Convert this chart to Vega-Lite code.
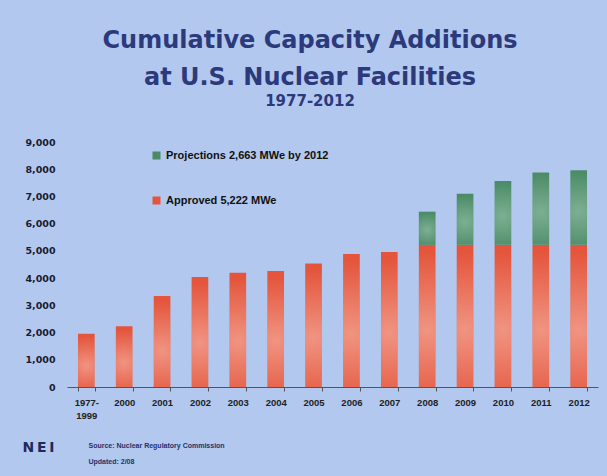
{
  "$schema": "https://vega.github.io/schema/vega-lite/v6.json",
  "width": 531,
  "height": 245,
  "autosize": "none",
  "padding": {"left": 67, "top": 142, "right": 9, "bottom": 89},
  "background": "#b2c8ee",
  "config": {"view": {"stroke": null}},
  "title": {
    "text": ["Cumulative Capacity Additions", "at U.S. Nuclear Facilities"],
    "subtitle": "1977-2012",
    "anchor": "middle",
    "frame": "bounds",
    "offset": 28,
    "font": "DejaVu Sans",
    "fontSize": 24,
    "fontWeight": "bold",
    "color": "#2c3a7c",
    "lineHeight": 37,
    "subtitleFont": "DejaVu Sans",
    "subtitleFontSize": 15,
    "subtitleFontWeight": "bold",
    "subtitleColor": "#2c3a7c",
    "subtitlePadding": 4
  },
  "data": {
    "values": [
      {"year": "1977-1999", "approved": 1960, "total": 1960},
      {"year": "2000", "approved": 2230, "total": 2230},
      {"year": "2001", "approved": 3340, "total": 3340},
      {"year": "2002", "approved": 4040, "total": 4040},
      {"year": "2003", "approved": 4200, "total": 4200},
      {"year": "2004", "approved": 4260, "total": 4260},
      {"year": "2005", "approved": 4540, "total": 4540},
      {"year": "2006", "approved": 4890, "total": 4890},
      {"year": "2007", "approved": 4960, "total": 4960},
      {"year": "2008", "approved": 5222, "total": 6440},
      {"year": "2009", "approved": 5222, "total": 7100},
      {"year": "2010", "approved": 5222, "total": 7570},
      {"year": "2011", "approved": 5222, "total": 7880},
      {"year": "2012", "approved": 5222, "total": 7960}
    ]
  },
  "encoding": {
    "x": {
      "field": "year",
      "type": "nominal",
      "sort": null,
      "scale": {"paddingInner": 0.56, "paddingOuter": 0.29},
      "axis": {
        "title": ["Source: Nuclear Regulatory Commission", "Updated: 2/08"],
        "titleX": 21,
        "titleY": 60,
        "titleAlign": "left",
        "titleAnchor": "start",
        "titleBaseline": "alphabetic",
        "titleFont": "Liberation Sans",
        "titleFontSize": 7,
        "titleFontWeight": "bold",
        "titleColor": "#25306a",
        "titleLineHeight": 16,
        "labelAngle": 0,
        "labelFont": "Liberation Sans",
        "labelFontWeight": "bold",
        "labelFontSize": 9.5,
        "labelColor": "#222222",
        "labelPadding": 6,
        "labelLineHeight": 13.5,
        "labelExpr": "datum.value == '1977-1999' ? ['1977-', '1999'] : datum.label",
        "domainColor": "#555555",
        "tickColor": "#555555",
        "tickSize": 4,
        "tickBand": "extent"
      }
    }
  },
  "layer": [
    {
      "mark": {"type": "bar"},
      "encoding": {
        "y": {
          "field": "approved",
          "type": "quantitative",
          "scale": {"domain": [0, 9000], "nice": false},
          "axis": {
            "values": [0, 1000, 2000, 3000, 4000, 5000, 6000, 7000, 8000, 9000],
            "format": ",d",
            "domain": false,
            "ticks": false,
            "grid": false,
            "labelPadding": 12,
            "labelFont": "DejaVu Sans",
            "labelFontWeight": "bold",
            "labelFontSize": 9.5,
            "labelColor": "#1a1a2e",
            "title": "N\u2009E\u2009I",
            "titleAngle": 0,
            "titleX": -45,
            "titleY": 305,
            "titleAlign": "left",
            "titleBaseline": "middle",
            "titleFont": "DejaVu Sans",
            "titleFontSize": 14,
            "titleFontWeight": "bold",
            "titleColor": "#1f2a5c"
          }
        },
        "color": {
          "datum": "Approved 5,222 MWe",
          "type": "nominal",
          "scale": {
            "domain": ["Projections 2,663 MWe by 2012", "Approved 5,222 MWe"],
            "range": ["#4a8a66", "#e4553c"]
          },
          "legend": {
            "orient": "none",
            "legendX": 84,
            "legendY": 8,
            "title": null,
            "direction": "vertical",
            "symbolType": "square",
            "symbolSize": 64,
            "symbolStrokeWidth": 0,
            "labelFont": "Liberation Sans",
            "labelFontSize": 11,
            "labelFontWeight": "bold",
            "labelColor": "#111111",
            "labelLimit": 400,
            "rowPadding": 33,
            "labelOffset": 4,
            "padding": 0
          }
        }
      }
    },
    {
      "mark": {
        "type": "bar",
        "fill": {
          "gradient": "radial",
          "x1": 0.5, "y1": 0.6, "r1": 0,
          "x2": 0.5, "y2": 0.6, "r2": 0.55,
          "stops": [
            {"offset": 0, "color": "rgba(255,225,215,0.45)"},
            {"offset": 1, "color": "rgba(255,225,215,0)"}
          ]
        }
      },
      "encoding": {
        "y": {
          "field": "approved",
          "type": "quantitative",
          "scale": {"domain": [0, 9000], "nice": false},
          "axis": {
            "values": [0, 1000, 2000, 3000, 4000, 5000, 6000, 7000, 8000, 9000],
            "format": ",d",
            "domain": false,
            "ticks": false,
            "grid": false,
            "labelPadding": 12,
            "labelFont": "DejaVu Sans",
            "labelFontWeight": "bold",
            "labelFontSize": 9.5,
            "labelColor": "#1a1a2e",
            "title": "N\u2009E\u2009I",
            "titleAngle": 0,
            "titleX": -45,
            "titleY": 305,
            "titleAlign": "left",
            "titleBaseline": "middle",
            "titleFont": "DejaVu Sans",
            "titleFontSize": 14,
            "titleFontWeight": "bold",
            "titleColor": "#1f2a5c"
          }
        }
      }
    },
    {
      "transform": [{"filter": "datum.total > datum.approved"}],
      "mark": {"type": "bar"},
      "encoding": {
        "y": {
          "field": "total",
          "type": "quantitative",
          "scale": {"domain": [0, 9000], "nice": false},
          "axis": {
            "values": [0, 1000, 2000, 3000, 4000, 5000, 6000, 7000, 8000, 9000],
            "format": ",d",
            "domain": false,
            "ticks": false,
            "grid": false,
            "labelPadding": 12,
            "labelFont": "DejaVu Sans",
            "labelFontWeight": "bold",
            "labelFontSize": 9.5,
            "labelColor": "#1a1a2e",
            "title": "N\u2009E\u2009I",
            "titleAngle": 0,
            "titleX": -45,
            "titleY": 305,
            "titleAlign": "left",
            "titleBaseline": "middle",
            "titleFont": "DejaVu Sans",
            "titleFontSize": 14,
            "titleFontWeight": "bold",
            "titleColor": "#1f2a5c"
          }
        },
        "y2": {"field": "approved"},
        "color": {
          "datum": "Projections 2,663 MWe by 2012",
          "type": "nominal",
          "scale": {
            "domain": ["Projections 2,663 MWe by 2012", "Approved 5,222 MWe"],
            "range": ["#4a8a66", "#e4553c"]
          },
          "legend": {
            "orient": "none",
            "legendX": 84,
            "legendY": 8,
            "title": null,
            "direction": "vertical",
            "symbolType": "square",
            "symbolSize": 64,
            "symbolStrokeWidth": 0,
            "labelFont": "Liberation Sans",
            "labelFontSize": 11,
            "labelFontWeight": "bold",
            "labelColor": "#111111",
            "labelLimit": 400,
            "rowPadding": 33,
            "labelOffset": 4,
            "padding": 0
          }
        }
      }
    },
    {
      "transform": [{"filter": "datum.total > datum.approved"}],
      "mark": {
        "type": "bar",
        "fill": {
          "gradient": "radial",
          "x1": 0.5, "y1": 0.55, "r1": 0,
          "x2": 0.5, "y2": 0.55, "r2": 0.55,
          "stops": [
            {"offset": 0, "color": "rgba(220,245,230,0.35)"},
            {"offset": 1, "color": "rgba(220,245,230,0)"}
          ]
        }
      },
      "encoding": {
        "y": {
          "field": "total",
          "type": "quantitative",
          "scale": {"domain": [0, 9000], "nice": false},
          "axis": {
            "values": [0, 1000, 2000, 3000, 4000, 5000, 6000, 7000, 8000, 9000],
            "format": ",d",
            "domain": false,
            "ticks": false,
            "grid": false,
            "labelPadding": 12,
            "labelFont": "DejaVu Sans",
            "labelFontWeight": "bold",
            "labelFontSize": 9.5,
            "labelColor": "#1a1a2e",
            "title": "N\u2009E\u2009I",
            "titleAngle": 0,
            "titleX": -45,
            "titleY": 305,
            "titleAlign": "left",
            "titleBaseline": "middle",
            "titleFont": "DejaVu Sans",
            "titleFontSize": 14,
            "titleFontWeight": "bold",
            "titleColor": "#1f2a5c"
          }
        },
        "y2": {"field": "approved"}
      }
    }
  ]
}
